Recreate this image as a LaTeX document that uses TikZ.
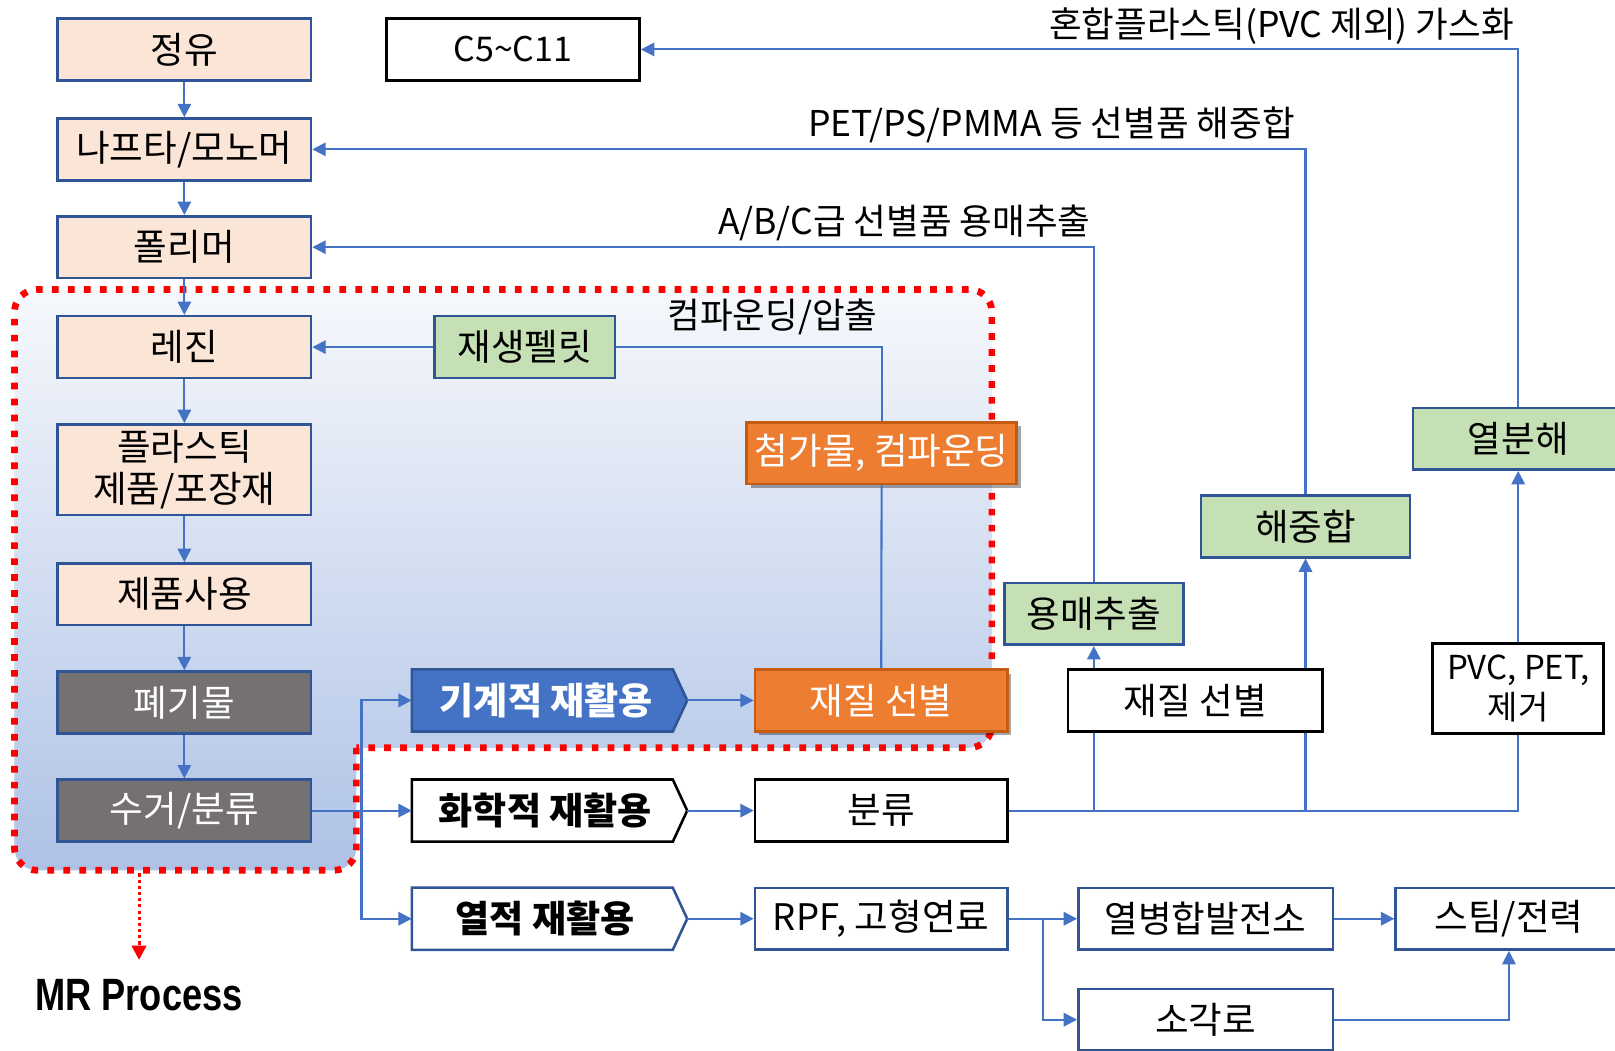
\documentclass[tikz,border=0pt]{standalone}
\usepackage{fontspec}
\setmainfont{Noto Sans CJK KR}
\newfontfamily\mrfont{Liberation Sans}[FakeStretch=0.8]
\usetikzlibrary{arrows.meta,shadows,calc}
\definecolor{bord}{HTML}{2F5597}
\definecolor{peach}{HTML}{FBE5D6}
\definecolor{grn}{HTML}{C5E0B4}
\definecolor{org}{HTML}{ED7D31}
\definecolor{orgb}{HTML}{C55A11}
\definecolor{dgray}{HTML}{767171}
\definecolor{acc}{HTML}{4472C4}
\definecolor{regtop}{HTML}{F6F8FC}
\definecolor{regbot}{HTML}{AEC2E6}
\definecolor{redl}{HTML}{FF0000}
\tikzset{
  box/.style={draw, line width=2.5pt, minimum height=60pt, inner sep=0pt, align=center,
    font=\fontsize{35.5pt}{40pt}\selectfont},
  pbox/.style={box, draw=bord, fill=peach, minimum width=246pt},
  gbox/.style={box, draw=bord, fill=dgray, text=white, minimum width=246pt},
  kbox/.style={box, draw=black, fill=white},
  bbox/.style={box, draw=bord, fill=white},
  grbox/.style={box, draw=bord, fill=grn},
  obox/.style={box, draw=orgb, fill=org, text=white,
    drop shadow={shadow xshift=4pt, shadow yshift=-4pt, opacity=0.35, fill=black}},
  sigbox/.style={minimum width=267pt, minimum height=60pt, inner sep=0pt},
  sigtext/.style={font=\fontsize{36pt}{40pt}\selectfont\bfseries},
  lbl/.style={font=\fontsize{34.5pt}{40pt}\selectfont, inner sep=0pt},
  conn/.style={draw=acc, line width=2pt},
  arr/.style={conn, -{Triangle[length=13pt,width=13pt]}},
  region/.style={rounded corners=22pt},
}
\begin{document}
\begin{tikzpicture}[x=1pt,y=-1pt]
\useasboundingbox (0,0) rectangle (1568,1020);
% MR region
\shade[region, top color=regtop, bottom color=regbot]
  (346,726) -- (346,845) -- (14,845) -- (14,281) -- (963,281) -- (963,726) -- (346,726);
\draw[region, draw=redl, line width=6.5pt, dash pattern=on 6.5pt off 9pt]
  (346,726) -- (346,845) -- (14,845) -- (14,281) -- (963,281) -- (963,726) -- (346,726);

% left column
\node[pbox] (jy) at (179,48) {정유};
\node[pbox] (naph) at (179,145) {나프타/모노머};
\node[pbox] (poly) at (179,240) {폴리머};
\node[pbox] (resin) at (179,337) {레진};
\node[pbox, minimum height=88pt] (prod) at (179,456) {플라스틱\\제품/포장재};
\node[pbox] (use) at (179,577) {제품사용};
\node[gbox] (waste) at (179,682) {폐기물};
\node[gbox] (coll) at (179,787) {수거/분류};

\node[kbox, minimum width=246pt, font=\fontsize{33pt}{40pt}\selectfont] (c5) at (498,48) {C5\textasciitilde C11};
\node[grbox, minimum width=175pt] (pellet) at (509.5,337) {재생펠릿};
\node[obox, minimum width=262pt] (add) at (856,440) {첨가물, 컴파운딩};
\node[obox, minimum width=245pt] (sortO) at (855.5,680) {재질 선별};

% recycling arrows (signal shapes)
\node[sigbox] (mech) at (533.5,680) {};
\filldraw[fill=acc, draw=bord, line width=2.5pt] (mech.north west) -- ([xshift=-14pt]mech.north east) -- (mech.east) -- ([xshift=-14pt]mech.south east) -- (mech.south west) -- cycle;
\node[sigtext, text=white] (mechT) at ([xshift=-3pt]mech.center) {기계적 재활용};
\node[sigbox] (chem) at (533.5,787) {};
\filldraw[fill=white, draw=black, line width=2.5pt] (chem.north west) -- ([xshift=-14pt]chem.north east) -- (chem.east) -- ([xshift=-14pt]chem.south east) -- (chem.south west) -- cycle;
\node[sigtext] (chemT) at ([xshift=-4pt]chem.center) {화학적 재활용};
\node[sigbox] (therm) at (533.5,892) {};
\filldraw[fill=white, draw=bord, line width=2.5pt] (therm.north west) -- ([xshift=-14pt]therm.north east) -- (therm.east) -- ([xshift=-14pt]therm.south east) -- (therm.south west) -- cycle;
\node[sigtext] (thermT) at ([xshift=-4pt]therm.center) {열적 재활용};

\node[kbox, minimum width=245pt] (bun) at (855.5,787) {분류};
\node[bbox, minimum width=245pt] (rpf) at (855.5,892) {RPF, 고형연료};
\node[bbox, minimum width=247pt] (chp) at (1170.5,892) {열병합발전소};
\node[bbox, minimum width=220pt] (steam) at (1465,892) {스팀/전력};
\node[bbox, minimum width=247pt] (inc) at (1170.5,990) {소각로};
\node[grbox, minimum width=174pt] (solv) at (1062,596) {용매추출};
\node[kbox, minimum width=247pt] (sortW) at (1160.5,680) {재질 선별};
\node[grbox, minimum width=203pt] (depo) at (1267.5,511) {해중합};
\node[grbox, minimum width=204pt] (pyro) at (1474,426) {열분해};
\node[kbox, minimum width=166pt, minimum height=87pt, font=\fontsize{32pt}{38pt}\selectfont] (pvc) at (1474,668.5) {PVC, PET,\\제거};

% connectors
\draw[arr] (jy) -- (naph);
\draw[arr] (naph) -- (poly);
\draw[arr] (poly) -- (resin);
\draw[arr] (resin) -- (prod);
\draw[arr] (prod) -- (use);
\draw[arr] (use) -- (waste);
\draw[arr] (waste) -- (coll);
\draw[arr] (coll) -- (chem);
\coordinate (br) at (351,787);
\draw[arr] (br) |- (mech.west);
\draw[arr] (br) |- (therm.west);
\draw[arr] (mech) -- (sortO);
\draw[conn] (sortO) -- (add);
\draw[conn] (add.north) |- (pellet.east);
\draw[arr] (pellet) -- (resin);
\node[lbl] (lcomp) at (750,308) {컴파운딩/압출};

\draw[arr] (chem) -- (bun);
\draw[arr] (therm) -- (rpf);
\draw[conn] (bun.east) -| (pvc.south);
\draw[conn] (solv.south |- bun.east) -- (solv.south |- sortW.south);
\draw[conn] (depo.south |- bun.east) -- (depo.south |- sortW.south);
\draw[arr] (solv.south |- sortW.north) -- (solv.south);
\draw[arr] (depo.south |- sortW.north) -- (depo.south);
\draw[arr] (pvc) -- (pyro);
\draw[arr] (solv.north) |- (poly.east);
\draw[arr] (depo.north) |- (naph.east);
\draw[arr] (pyro.north) |- (c5.east);
\node[lbl, anchor=base east] (l1) at ($(solv.north |- poly.east)+(-3,-12)$) {A/B/C급 선별품 용매추출};
\node[lbl, anchor=base east] (l2) at ($(depo.north |- naph.east)+(-10,-12)$) {PET/PS/PMMA 등 선별품 해중합};
\node[lbl, anchor=base east] (l3) at ($(pyro.north |- c5.east)+(-4,-12)$) {혼합플라스틱(PVC 제외) 가스화};

\draw[arr] (rpf) -- (chp);
\coordinate (br2) at (1013,892);
\draw[arr] (br2) |- (inc.west);
\draw[arr] (chp) -- (steam);
\draw[arr] (inc.east) -| (steam.south);

% MR process
\node[inner sep=0pt, font=\mrfont\bfseries\fontsize{44pt}{50pt}\selectfont] (mr) at (135,966) {MR Process};
\coordinate (mrs) at (135,848);
\draw[draw=redl, line width=3pt, dash pattern=on 3pt off 3pt, -{Triangle[length=14pt,width=14pt]}] (mrs) -- (135,932);
\end{tikzpicture}
\end{document}
